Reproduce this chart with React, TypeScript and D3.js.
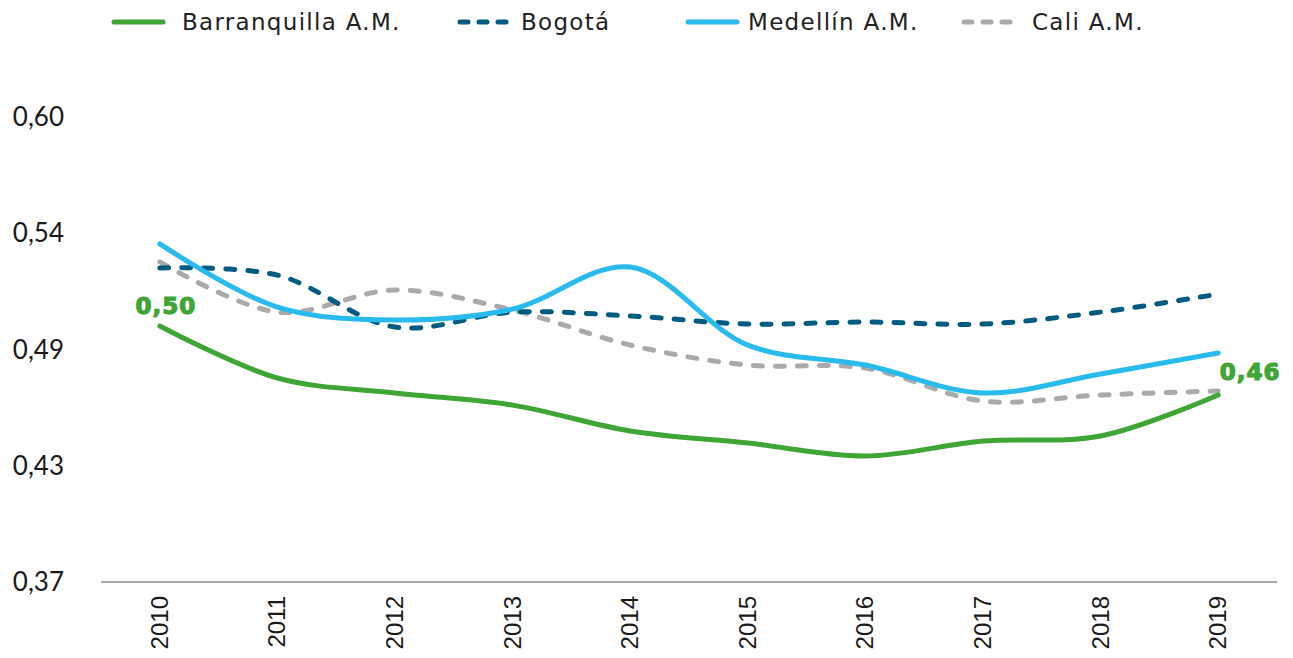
import React from "react";
import * as d3 from "d3";

const years = ["2010", "2011", "2012", "2013", "2014", "2015", "2016", "2017", "2018", "2019"];
const barranquilla = [0.4966, 0.4709, 0.4635, 0.4575, 0.4447, 0.4387, 0.4323, 0.4397, 0.4422, 0.4625];
const bogota = [0.5253, 0.5218, 0.4961, 0.5035, 0.5016, 0.4976, 0.4986, 0.4976, 0.5035, 0.5124];
const medellin = [0.5372, 0.506, 0.4996, 0.505, 0.5258, 0.4872, 0.4773, 0.4635, 0.4729, 0.4833];
const cali = [0.5283, 0.5035, 0.5144, 0.5045, 0.4872, 0.4773, 0.4758, 0.4595, 0.4625, 0.4645];
const yTicks = [0.37, 0.4275, 0.485, 0.5425, 0.6];
const yTickLabels = ["0,37", "0,43", "0,49", "0,54", "0,60"];
const labels = [
  { text: "0,50", index: 0, value: 0.4966 },
  { text: "0,46", index: 9, value: 0.4625 },
];

const W = 1293;
const H = 658;

export default function App() {
  const x = d3.scaleBand<string>().domain(years).range([101, 1277]);
  const y = d3.scaleLinear().domain([0.37, 0.6]).range([582, 117]);
  const cx = (d: string) => (x(d) as number) + x.bandwidth() / 2;

  const line = d3
    .line<number>()
    .x((_, i) => cx(years[i]))
    .y((v) => y(v))
    .curve(d3.curveCatmullRom.alpha(0.5));

  const series = [
    { name: "Barranquilla A.M.", data: barranquilla, color: "#3fa535", dash: "", lx: 112, tx: 182 },
    { name: "Bogotá", data: bogota, color: "#005b82", dash: "9 13", lx: 458, tx: 521 },
    { name: "Medellín A.M.", data: medellin, color: "#29bbee", dash: "", lx: 686, tx: 748 },
    { name: "Cali A.M.", data: cali, color: "#aaaaaa", dash: "9 13", lx: 962, tx: 1032 },
  ];
  const drawOrder = [3, 1, 2, 0];

  return (
    <svg width={W} height={H} style={{ position: "absolute", left: 0, top: 0, background: "#fff" }}>
      {/* legend */}
      {series.map((s) => (
        <g key={s.name}>
          <line
            x1={s.lx + 2}
            x2={s.lx + 51}
            y1={22}
            y2={22}
            stroke={s.color}
            strokeWidth={5}
            strokeLinecap="round"
            strokeDasharray={s.dash ? "8 11" : undefined}
          />
          <text
            x={s.tx}
            y={30}
            fontFamily="'DejaVu Sans', sans-serif"
            fontSize={23}
            letterSpacing={1.3}
            fill="#222"
          >
            {s.name}
          </text>
        </g>
      ))}
      {/* y tick labels */}
      {yTicks.map((t, i) => (
        <text
          key={t}
          x={64}
          y={y(t) + 9}
          textAnchor="end"
          fontFamily="Lato, sans-serif"
          fontSize={26}
          fill="#1a1a1a"
        >
          {yTickLabels[i]}
        </text>
      ))}
      {/* x axis */}
      <line x1={101} x2={1277} y1={582} y2={582} stroke="#8c8c8c" strokeWidth={1.5} />
      {years.map((yr) => (
        <text
          key={yr}
          transform={`translate(${cx(yr) + 8},596) rotate(-90)`}
          textAnchor="end"
          fontFamily="'Liberation Sans', Arial, sans-serif"
          fontSize={24}
          fill="#1a1a1a"
        >
          {yr}
        </text>
      ))}
      {/* lines */}
      {drawOrder.map((i) => {
        const s = series[i];
        return (
          <path
            key={s.name}
            d={line(s.data) || ""}
            fill="none"
            stroke={s.color}
            strokeWidth={5}
            strokeLinecap="round"
            strokeDasharray={s.dash || undefined}
          />
        );
      })}
      {/* data labels */}
      {labels.map((l, k) => (
        <text
          key={l.text}
          x={k === 0 ? cx(years[l.index]) + 6 : cx(years[l.index]) + 32}
          y={k === 0 ? y(l.value) - 12 : y(l.value) - 15}
          textAnchor="middle"
          fontFamily="'DejaVu Sans', sans-serif"
          fontWeight={700}
          fontSize={23}
          letterSpacing={1}
          stroke="#3fa535"
          strokeWidth={1.2}
          strokeLinejoin="round"
          fill="#3fa535"
        >
          {l.text}
        </text>
      ))}
    </svg>
  );
}
